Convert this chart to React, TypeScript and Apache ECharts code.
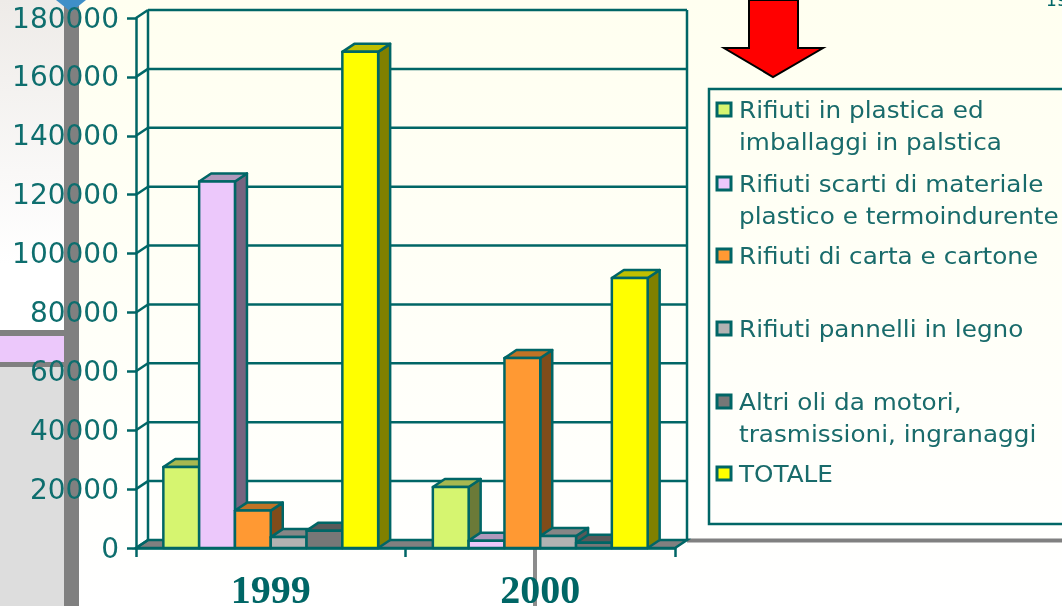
import React, { useEffect, useRef } from "react";
import * as echarts from "echarts";

const years = ["1999", "2000"];
const yTicks = [0, 20000, 40000, 60000, 80000, 100000, 120000, 140000, 160000, 180000];
const plastica = [27500, 20700];
const scarti = [124500, 2500];
const carta = [12700, 64500];
const legno = [3700, 4100];
const oli = [5900, 1800];
const totale = [168500, 91700];

const names = [
  "Rifiuti in plastica ed\nimballaggi in palstica",
  "Rifiuti scarti di materiale\nplastico e termoindurente",
  "Rifiuti di carta e cartone",
  "Rifiuti pannelli in legno",
  "Altri oli da motori,\ntrasmissioni, ingranaggi",
  "TOTALE",
];
const values = [plastica, scarti, carta, legno, oli, totale];
const fronts = ["#D6F570", "#ECC8FB", "#FF9933", "#B2B2B2", "#777777", "#FFFF00"];
const tops = ["#A6B850", "#B098BC", "#BF7326", "#868686", "#595959", "#BFBF00"];
const sides = ["#6B7A38", "#766480", "#804C1A", "#595959", "#3C3C3C", "#808000"];

const TEAL = "#006666";
const DX = 12;
const DY = -8;
const BAR_RATIO = 35.8 / 269.5;

function App() {
  const ref = useRef<HTMLDivElement>(null);
  useEffect(() => {
    const chart = echarts.init(ref.current!, undefined, { renderer: "svg" });

    const wallItem = (_: any, api: any) => {
      const base = api.coord([0, 0]);
      const size = api.size([1, 0]);
      const left = base[0] - size[0] / 2;
      const right = left + size[0] * 2;
      const y0 = base[1];
      const topY = api.coord([0, 180000])[1];
      const line = (x1: number, y1: number, x2: number, y2: number, w = 2.5) => ({
        type: "line",
        shape: { x1, y1, x2, y2 },
        style: { stroke: TEAL, lineWidth: w, fill: "none" },
      });
      const children: any[] = [
        {
          type: "polygon",
          shape: { points: [[left, y0], [left + DX, y0 + DY], [right + DX, y0 + DY], [right, y0]] },
          style: { fill: "#808080", stroke: TEAL, lineWidth: 2.5 },
        },
        line(left + DX, y0 + DY, left + DX, topY + DY),
        line(right + DX, y0 + DY, right + DX, topY + DY),
      ];
      yTicks.forEach((t) => {
        const y = api.coord([0, t])[1];
        if (t > 0) children.push(line(left + DX, y + DY, right + DX, y + DY));
        children.push(line(left, y, left + DX, y + DY));
      });
      return { type: "group", children };
    };

    const barItem = (i: number) => (_: any, api: any) => {
      const cat = api.value(0);
      const val = api.value(1);
      const c = api.coord([cat, val]);
      const b = api.coord([cat, 0]);
      const band = api.size([1, 0])[0];
      const w = band * BAR_RATIO;
      const x = c[0] - 3 * w + i * w;
      const style = (fill: string) => ({ fill, stroke: TEAL, lineWidth: 2.5, lineJoin: "round" });
      return {
        type: "group",
        children: [
          {
            type: "polygon",
            shape: { points: [[x + w, c[1]], [x + w + DX, c[1] + DY], [x + w + DX, b[1] + DY], [x + w, b[1]]] },
            style: style(sides[i]),
          },
          {
            type: "polygon",
            shape: { points: [[x, c[1]], [x + DX, c[1] + DY], [x + w + DX, c[1] + DY], [x + w, c[1]]] },
            style: style(tops[i]),
          },
          { type: "rect", shape: { x, y: c[1], width: w, height: b[1] - c[1] }, style: style(fronts[i]) },
        ],
      };
    };

    const legendY = [109, 183, 255, 328, 401, 473];
    const legendGraphics: any[] = [];
    names.forEach((n, i) => {
      legendGraphics.push({
        type: "rect",
        z: 5,
        shape: { x: 717, y: legendY[i] - 6, width: 14, height: 13 },
        style: { fill: fronts[i], stroke: TEAL, lineWidth: 3 },
      });
      legendGraphics.push({
        type: "text",
        z: 5,
        x: 739,
        y: legendY[i] - 15,
        scaleX: 1.075,
        style: {
          text: n,
          fill: "#196B6B",
          font: '23px "DejaVu Sans"',
          lineHeight: 32,
          textVerticalAlign: "top",
        },
      });
    });

    chart.setOption({
      animation: false,
      graphic: [
        {
          type: "group",
          silent: true,
          z: -10,
          children: [
            {
              type: "rect",
              z: -10,
              shape: { x: 0, y: 0, width: 1062, height: 606 },
              style: {
                fill: new echarts.graphic.LinearGradient(0, 0, 0, 1, [
                  { offset: 0, color: "#FFFFF0" },
                  { offset: 0.55, color: "#FFFFF8" },
                  { offset: 1, color: "#FFFFFF" },
                ]),
              },
            },
            {
              type: "rect",
              z: -9,
              shape: { x: 0, y: 0, width: 64, height: 330 },
              style: {
                fill: new echarts.graphic.LinearGradient(0, 0, 0, 1, [
                  { offset: 0, color: "#EEEBE8" },
                  { offset: 0.8, color: "#FFFFFF" },
                  { offset: 1, color: "#FFFFFF" },
                ]),
              },
            },
            { type: "rect", z: -9, shape: { x: 0, y: 367, width: 64, height: 239 }, style: { fill: "#DDDDDD" } },
            { type: "rect", z: -9, shape: { x: 0, y: 330, width: 64, height: 37 }, style: { fill: "#808080" } },
            { type: "rect", z: -8, shape: { x: 0, y: 336, width: 64, height: 26 }, style: { fill: "#ECC8FB" } },
            { type: "rect", z: -8, shape: { x: 64, y: 0, width: 15, height: 606 }, style: { fill: "#808080" } },
            {
              type: "polygon",
              z: -7,
              shape: { points: [[56, 0], [71, 12], [86, 0]] },
              style: { fill: "#3F8FC8" },
            },
            { type: "rect", z: -8, shape: { x: 533, y: 548, width: 4, height: 58 }, style: { fill: "#8C8C8C" } },
            { type: "rect", z: -8, shape: { x: 687, y: 538.5, width: 375, height: 4 }, style: { fill: "#808080" } },
            {
              type: "polygon",
              z: -7,
              shape: {
                points: [[749, 0], [749, 48], [724, 48], [773, 77], [823, 48], [798, 48], [798, 0]],
              },
              style: { fill: "#FF0000", stroke: "#000000", lineWidth: 2 },
            },
            {
              type: "rect",
              z: -7,
              shape: { x: 709, y: 89, width: 360, height: 435 },
              style: { fill: "transparent", stroke: TEAL, lineWidth: 2.5 },
            },
            {
              type: "text",
              z: -7,
              x: 1046,
              y: -9,
              style: { text: "19", fill: TEAL, font: '17px "DejaVu Sans"', textVerticalAlign: "top" },
            },
          ],
        },
        { type: "group", silent: true, z: 5, children: legendGraphics },
      ],
      grid: { left: 136, top: 18, width: 539, height: 530, containLabel: false, outerBoundsMode: "none" },
      xAxis: {
        type: "category",
        data: years,
        axisLine: { lineStyle: { color: TEAL, width: 2.5 } },
        axisTick: { show: true, length: 9, lineStyle: { color: TEAL, width: 2.5 } },
        axisLabel: {
          color: TEAL,
          fontFamily: '"Liberation Serif"',
          fontWeight: "bold",
          fontSize: 40,
          lineHeight: 32,
          margin: 25,
        },
        z: 6,
      },
      yAxis: {
        type: "value",
        min: 0,
        max: 180000,
        interval: 20000,
        axisLine: { show: true, lineStyle: { color: TEAL, width: 2.5 } },
        axisTick: { show: true, length: 9, lineStyle: { color: TEAL, width: 2.5 } },
        splitLine: { show: false },
        axisLabel: {
          color: "#0E6E6E",
          fontFamily: '"DejaVu Sans"',
          fontSize: 28,
          margin: 17,
          formatter: (v: number) => String(v),
        },
        z: 6,
      },
      series: [
        {
          type: "custom",
          name: "wall",
          silent: true,
          z: 1,
          renderItem: wallItem,
          data: [[0, 0]],
          encode: { x: 0, y: 1 },
        },
        ...names.map((n, i) => ({
          type: "custom",
          name: n,
          z: 2,
          renderItem: barItem(i),
          data: years.map((_, k) => [k, values[i][k]]),
          encode: { x: 0, y: 1 },
        })),
      ],
    });
    return () => chart.dispose();
  }, []);
  return <div ref={ref} style={{ position: "fixed", left: 0, top: 0, width: 1062, height: 606 }} />;
}

export default App;
